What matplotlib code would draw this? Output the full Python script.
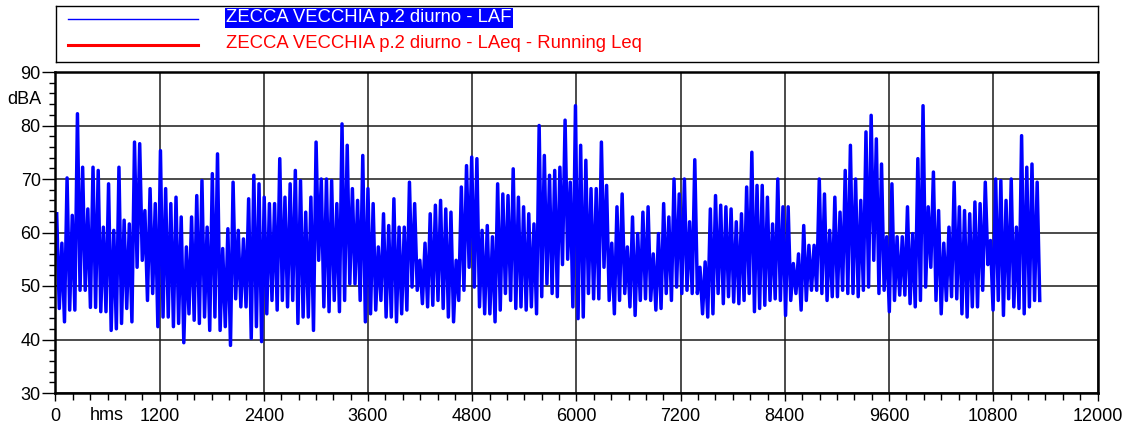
import numpy as np
import matplotlib
matplotlib.use("Agg")
import matplotlib.pyplot as plt
from matplotlib import font_manager

# LAF envelope: max and min level (dBA) in each ~60 s slice
laf_max = [
    63.5, 58, 70.2, 63.2, 82.2, 72.2, 64.4, 72.2, 71.6, 61,
    69.1, 60.4, 72.2, 62.3, 61.6, 76.9, 76.6, 64.1, 68.2, 65.4,
    75.3, 68.2, 65.4, 66.6, 62.9, 57.3, 62.9, 66.9, 69.7, 61,
    71, 74.7, 57, 60.7, 69.4, 60.4, 58.8, 66.3, 70.7, 69.1,
    66.6, 65.4, 65.4, 73.8, 66.6, 69.1, 71.6, 69.7, 63.8, 66.6,
    76.9, 70,
    70, 69.7, 65.4, 80.3, 76.3, 68.2, 66, 74.4, 68.2, 65.4,
    57.3, 63.5, 61.3, 66.3, 61, 61, 69.4, 65.4, 54.8, 58,
    63.5, 65.1, 66, 64.4, 63.8, 54.8, 68.5, 72.5, 74.1, 73.8,
    60.4, 61.3, 59.2, 69.1, 67.2, 66.9, 71.9, 66.6, 64.8, 63.5,
    61.6, 80, 74.4, 70.7, 71.6, 72.2, 81, 69.4, 83.7, 76.3,
    73.5, 68.2,
    68.2, 76.9, 68.8, 58, 64.8, 67.2, 57.3, 62.9, 59.8, 63.8,
    64.8, 56, 59.8, 65.4, 62.9, 70, 67.2, 70, 62, 73.6,
    53.5, 54.5, 64.4, 66.9, 65.1, 64.8, 64.4, 62, 63.5, 68.5,
    75, 68.8, 68.8, 66.6, 61.6, 70, 64.8, 64.8, 54.2, 56,
    61.3, 57.6, 57.6, 70, 67.2, 60.4, 66.6, 63.8, 71.6, 76.3,
    70, 66, 78.8,
    81.9, 77.5, 72.8, 59.2, 69.1, 59.2, 59.2, 64.8, 59.8, 73.8,
    83.7, 64.8, 71.3, 64.1, 58, 61, 69.4, 64.8, 64.1, 63.5,
    65.7, 65.4, 69.4, 58.5, 70, 69.7, 66, 70, 61, 78.1,
    72.2, 72.8, 69.4,
]
laf_min = [
    45.8, 43.3, 45.5, 45.5, 49.2, 49.2, 46, 46, 45.2, 45.2,
    41.7, 42, 43, 45.8, 43.3, 53.5, 54.8, 47.3, 48.6, 42.4,
    44.2, 44.2, 42.4, 43, 39.4, 44.8, 43.6, 43, 44.2, 41.7,
    44.2, 41.7, 42.4, 38.9, 47.6, 46.1, 46.1, 40.2, 42.4, 39.6,
    44.8, 47.3, 45.5, 47.3, 46.1, 47.3, 43, 44.2, 44.2, 41.7,
    54.8, 46.1,
    45.2, 47.3, 45.2, 47.3, 50.4, 50.4, 47.3, 43.3, 44.8, 45.5,
    47.3, 44.2, 44.2, 43.3, 44.8, 45.5, 49.8, 49.2, 46.7, 46.1,
    46.4, 47.3, 45.8, 44.2, 43.3, 47.3, 49.2, 53.5, 49.8, 46.1,
    44.8, 44.8, 43.3, 45.5, 48.6, 47.3, 45.8, 46.1, 45.5, 46.1,
    44.8, 48, 50.4, 48.6, 48, 54, 55, 46.1, 43.9, 44.2,
    48.6, 47.6,
    47.6, 53.5, 47.3, 44.8, 47.3, 48.6, 46.1, 44.5, 47.3, 47.6,
    47.3, 45.5, 45.8, 48.6, 47.3, 49.8, 48.6, 49.2, 48.6, 48.6,
    44.8, 44.2, 44.8, 48.6, 46.7, 48, 47, 46.7, 47.3, 48.6,
    45.2, 45.8, 46.4, 47.3, 47.6, 47.3, 44.5, 47.3, 48.6, 45.5,
    47.3, 49.2, 49.2, 48.6, 47.3, 48, 48, 49.2, 48.6, 48.6,
    48, 49.2, 49.8,
    54.8, 48.6, 49.2, 45.2, 47.3, 48.3, 48.3, 46.7, 46.1, 47.3,
    49.8, 53.5, 47.3, 44.8, 47.3, 48, 47.6, 44.8, 44.2, 46.1,
    46.1, 49.2, 54, 45.5, 47.3, 44.5, 47.6, 46.1, 45.8, 44.8,
    46.1, 47.3, 47.3,
]
t_end = 11350  # s, end of the measurement

legend_labels = ["ZECCA VECCHIA p.2 diurno - LAF",
                 "ZECCA VECCHIA p.2 diurno - LAeq - Running Leq"]
x_ticks = [0, 1200, 2400, 3600, 4800, 6000, 7200, 8400, 9600, 10800, 12000]
y_ticks = [30, 40, 50, 60, 70, 80, 90]

names = {f.name for f in font_manager.fontManager.ttflist}
if "Liberation Sans Narrow" in names:
    FONT, FS_TICK, FS_LEG = "Liberation Sans Narrow", 14.5, 15.5
else:
    FONT, FS_TICK, FS_LEG = "Liberation Sans", 13, 13.3
plt.rcParams["font.family"] = [FONT, "DejaVu Sans"]

# zig-zag: max then min inside every slice
n = len(laf_max)
w = t_end / n
t = np.empty(2 * n)
y = np.empty(2 * n)
t[0::2] = np.arange(n) * w + 0.25 * w
t[1::2] = np.arange(n) * w + 0.75 * w
y[0::2] = laf_max
y[1::2] = laf_min

W, H = 1126, 428
fig = plt.figure(figsize=(W / 100, H / 100), dpi=100)
ax = fig.add_axes([55.4 / W, 1 - 393 / H, (1097.5 - 55.4) / W, (393 - 72) / H])

ax.plot(t, y, color="#0000ff", lw=2.5, solid_joinstyle="round")

ax.set_xlim(0, 12000)
ax.set_ylim(30, 90)
ax.set_xticks(x_ticks)
ax.set_yticks(y_ticks)
ax.set_xticks(np.arange(0, 12001, 200), minor=True)
ax.set_yticks(np.arange(30, 91, 2), minor=True)
ax.grid(True, which="major", color="#1a1a1a", lw=1.1)
ax.set_axisbelow(True)
for s in ax.spines.values():
    s.set_linewidth(1.8)
    s.set_color("black")
ax.tick_params(axis="y", which="major", length=9.5, width=1, pad=1, labelsize=FS_TICK)
ax.tick_params(axis="y", which="minor", length=4.3, width=1)
ax.tick_params(axis="x", which="major", length=6, width=1, pad=5, labelsize=FS_TICK)
ax.tick_params(axis="x", which="minor", length=5, width=1)

fig.text(41 / W, 1 - 99 / H, "dBA", ha="right", va="center", fontsize=FS_TICK)
fig.text(107 / W, 1 - 416 / H, "hms", ha="center", va="center", fontsize=FS_TICK)

# legend box drawn in pixel coordinates
lax = fig.add_axes([56 / W, 1 - 62 / H, (1098 - 56) / W, (62 - 6) / H])
lax.set_xlim(56, 1098)
lax.set_ylim(62, 6)
lax.set_xticks([])
lax.set_yticks([])
for s in lax.spines.values():
    s.set_linewidth(1.0)
lax.plot([68, 198], [19, 19], color="#0000ff", lw=1.0)
lax.plot([68, 198], [45, 45], color="#ff0000", lw=2.2)
lax.text(226, 18, legend_labels[0], color="white", fontsize=FS_LEG, va="center", ha="left",
         bbox=dict(boxstyle="square,pad=0.08", facecolor="#0000ff", edgecolor="none"))
lax.text(226, 44, legend_labels[1], color="#ff0000", fontsize=FS_LEG, va="center", ha="left")

fig.savefig("out.png", dpi=100)
